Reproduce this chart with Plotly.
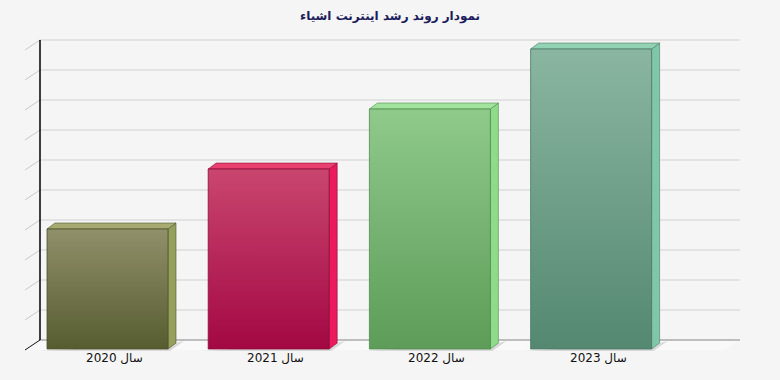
import plotly.graph_objects as go

# ---- data ----
title_text = "نمودار روند رشد اینترنت اشیاء"
categories = ["سال 2020", "سال 2021", "سال 2022", "سال 2023"]
values = [4, 6, 8, 10]
grid_values = list(range(0, 11))

# ---- styles ----
front_top = ["#90906a", "#c9466f", "#8fca8b", "#8ab6a1"]
front_bot = ["#575c30", "#a30843", "#5d9c59", "#548871"]
side_col = ["#95a05c", "#ec1a5c", "#8edb8a", "#7fc7a9"]
top_col = ["#a7ab72", "#e8406f", "#a2e49e", "#92d2b4"]
edge_col = ["#4e522c", "#8a0a3a", "#4f8a4c", "#4a7a64"]

W, H = 780, 380
XS, X0 = 161.2, 107.5   # px per category unit, px of first category
YS, Y0 = 30.0, 349.0    # px per value unit, px of value 0 (front plane)


def dxu(px):
    return px / XS


def dyu(px):
    return px / YS


def xpx(px):
    return (px - X0) / XS


bar_half = dxu(60.5)
depth_x, depth_y = dxu(8), dyu(6)
wall_y = dyu(9)
wall_left, wall_right = xpx(40), xpx(740)
side_left = xpx(25)

fig = go.Figure()

# back wall gridlines and their diagonal ticks
for g in grid_values:
    if g == 0:
        continue
    fig.add_trace(go.Scatter(x=[wall_left, wall_right], y=[g + wall_y, g + wall_y],
                             mode="lines", line=dict(color="#dcdcdc", width=1.5),
                             hoverinfo="skip"))
    fig.add_trace(go.Scatter(x=[side_left, wall_left], y=[g - dyu(1), g + wall_y],
                             mode="lines", line=dict(color="#c8c8c8", width=1),
                             hoverinfo="skip"))

# floor
fig.add_trace(go.Scatter(x=[side_left, wall_left, wall_right, wall_right - dxu(15), side_left],
                         y=[-dyu(1), wall_y, wall_y, -dyu(1), -dyu(1)],
                         mode="lines", fill="toself", fillcolor="#f9f9f9",
                         line=dict(width=0), hoverinfo="skip"))
fig.add_trace(go.Scatter(x=[wall_left, wall_right], y=[wall_y, wall_y], mode="lines",
                         line=dict(color="#aaaaaa", width=1.5), hoverinfo="skip"))
fig.add_trace(go.Scatter(x=[side_left, wall_left], y=[-dyu(1), wall_y], mode="lines",
                         line=dict(color="#111111", width=1), hoverinfo="skip"))

# bars
for i, (cat, v) in enumerate(zip(categories, values)):
    x0, x1 = i - bar_half, i + bar_half
    # shadow
    fig.add_trace(go.Scatter(
        x=[x0 - dxu(6), x1 + dxu(2), x1 + dxu(16), x1 + dxu(8), x0 - dxu(6)],
        y=[-dyu(2), -dyu(2), dyu(8), dyu(6), -dyu(2)],
        mode="lines", fill="toself", fillcolor="#d9d9d9", line=dict(width=0),
        hoverinfo="skip"))
    # side face
    fig.add_trace(go.Scatter(
        x=[x1, x1 + depth_x, x1 + depth_x, x1, x1],
        y=[0, depth_y, v + depth_y, v, 0],
        mode="lines", fill="toself", fillcolor=side_col[i],
        line=dict(color=edge_col[i], width=0.6), hoverinfo="skip"))
    # top face
    fig.add_trace(go.Scatter(
        x=[x0, x1, x1 + depth_x, x0 + depth_x, x0],
        y=[v, v, v + depth_y, v + depth_y, v],
        mode="lines", fill="toself", fillcolor=top_col[i],
        line=dict(color=edge_col[i], width=0.6), hoverinfo="skip"))
    # front face with vertical gradient
    fig.add_trace(go.Scatter(
        x=[x0, x1, x1, x0, x0],
        y=[0, 0, v, v, 0],
        mode="lines", fill="toself",
        fillgradient=dict(type="vertical",
                          colorscale=[[0, front_bot[i]], [1, front_top[i]]]),
        line=dict(color=edge_col[i], width=0.8), hoverinfo="skip"))

# vertical axis line on the back wall
fig.add_trace(go.Scatter(x=[wall_left, wall_left], y=[wall_y, grid_values[-1] + wall_y],
                         mode="lines", line=dict(color="#000000", width=1.5),
                         hoverinfo="skip"))

annotations = []
for i, cat in enumerate(categories):
    annotations.append(dict(x=i + dxu(7), y=-dyu(9), text=cat, showarrow=False,
                            xanchor="center", yanchor="middle",
                            font=dict(family="DejaVu Sans", size=12, color="#111111")))

fig.update_layout(
    width=W, height=H,
    margin=dict(l=0, r=0, t=0, b=0),
    paper_bgcolor="#f5f5f5", plot_bgcolor="#f5f5f5",
    showlegend=False, hovermode=False,
    title=dict(text="<b>" + title_text + "</b>", x=0.5, xanchor="center",
               y=1 - 16 / H, yanchor="middle",
               font=dict(family="DejaVu Sans", size=12, color="#1c1c5c")),
    xaxis=dict(range=[xpx(0), xpx(W)], visible=False, fixedrange=True),
    yaxis=dict(range=[-(H - Y0) / YS, Y0 / YS], visible=False, fixedrange=True),
    annotations=annotations,
)

fig.write_html("out.html")
